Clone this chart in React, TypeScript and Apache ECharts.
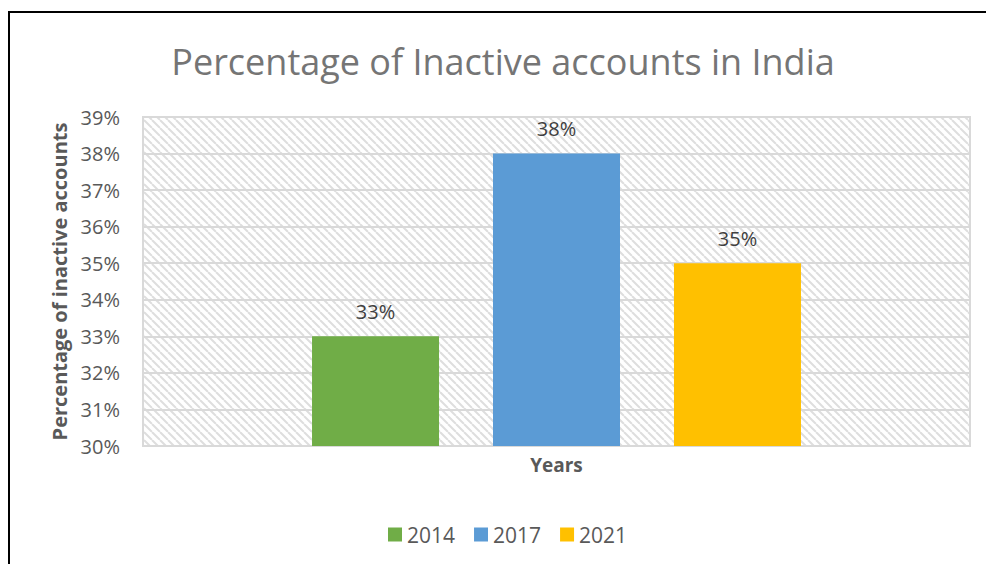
import React, { useEffect, useRef } from "react";
import * as echarts from "echarts";

const TITLE = "Percentage of Inactive accounts in India";
const CATEGORIES = [""];
const SERIES_NAMES = ["2014", "2017", "2021"];
const SERIES_VALUES = [33, 38, 35];
const SERIES_COLORS = ["#70AD47", "#5B9BD5", "#FFC000"];
const Y_MIN = 30;
const Y_MAX = 39;
const Y_INTERVAL = 1;
const Y_NAME = "Percentage of inactive accounts";
const X_NAME = "Years";

function makeHatch(): HTMLCanvasElement {
  const c = document.createElement("canvas");
  c.width = 8;
  c.height = 8;
  const ctx = c.getContext("2d")!;
  ctx.fillStyle = "#ffffff";
  ctx.fillRect(0, 0, 8, 8);
  ctx.strokeStyle = "#dedede";
  ctx.lineWidth = 2;
  ctx.beginPath();
  for (let k = -8; k <= 16; k += 8) {
    ctx.moveTo(k, 0);
    ctx.lineTo(k + 8, 8);
  }
  ctx.stroke();
  return c;
}

export default function App() {
  const ref = useRef<HTMLDivElement>(null);
  useEffect(() => {
    if (!ref.current) return;
    const chart = echarts.init(ref.current, undefined, { renderer: "svg" });
    const font = "'Open Sans', 'Noto Sans', sans-serif";
    chart.setOption({
      animation: false,
      backgroundColor: "#ffffff",
      textStyle: { fontFamily: font },
      graphic: [
        {
          type: "text",
          x: 503,
          y: 61,
          silent: true,
          style: {
            text: TITLE,
            fontFamily: font,
            fontSize: 36,
            fill: "#757575",
            textAlign: "center",
            textVerticalAlign: "middle",
          },
        },
        {
          type: "rect",
          shape: { x: 9, y: 12, width: 1100, height: 700 },
          style: { fill: "none", stroke: "#000000", lineWidth: 2 },
          silent: true,
          z: 100,
        },
      ],
      legend: {
        bottom: 14,
        left: 383,
        itemWidth: 14,
        itemHeight: 14,
        itemGap: 19,
        icon: "rect",
        textStyle: { fontFamily: font, fontSize: 21, color: "#595959" },
        data: SERIES_NAMES,
      },
      grid: {
        left: 143,
        right: 16,
        top: 117,
        bottom: 118,
        show: true,
        backgroundColor: { image: makeHatch(), repeat: "repeat" },
        borderColor: "#d9d9d9",
        borderWidth: 2,
        containLabel: false,
      },
      xAxis: {
        type: "category",
        data: CATEGORIES,
        name: X_NAME,
        nameLocation: "middle",
        nameGap: 9,
        nameTextStyle: { fontFamily: font, fontSize: 19, fontWeight: "bold", color: "#595959" },
        axisLine: { lineStyle: { color: "#d9d9d9", width: 2 } },
        axisTick: { show: false },
        axisLabel: { show: false },
      },
      yAxis: {
        type: "value",
        min: Y_MIN,
        max: Y_MAX,
        interval: Y_INTERVAL,
        name: Y_NAME,
        nameLocation: "middle",
        nameGap: 73,
        nameTextStyle: { fontFamily: font, fontSize: 20, fontWeight: "bold", color: "#595959" },
        axisLine: { show: false },
        axisTick: { show: false },
        axisLabel: {
          formatter: (v: number) => `${v}%`,
          fontFamily: font,
          fontSize: 20,
          color: "#595959",
          margin: 23,
        },
        splitLine: { lineStyle: { color: "#d9d9d9", width: 2 } },
      },
      series: SERIES_NAMES.map((name, i) => ({
        name,
        type: "bar",
        data: [SERIES_VALUES[i]],
        barWidth: 127,
        barGap: "42.5%",
        itemStyle: { color: SERIES_COLORS[i] },
        label: {
          show: true,
          position: "top",
          distance: 15,
          formatter: (p: any) => `${p.value}%`,
          fontFamily: font,
          fontSize: 20,
          color: "#404040",
        },
      })),
    });
    return () => chart.dispose();
  }, []);
  return (
    <div
      ref={ref}
      style={{ position: "fixed", left: 0, top: 0, width: 986, height: 564 }}
    />
  );
}
